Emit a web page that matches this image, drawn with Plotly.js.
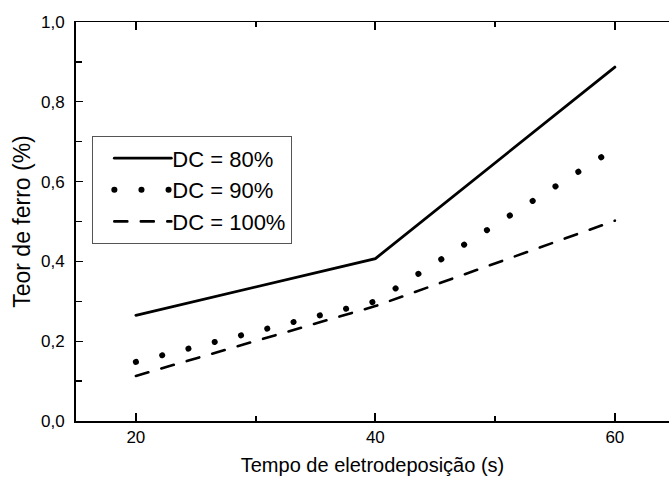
<!DOCTYPE html>
<html>
<head>
<meta charset="utf-8">
<script src="https://cdn.plot.ly/plotly-3.0.1.min.js"></script>
<style>
html,body{margin:0;padding:0;background:#fff;}
#chart{width:669px;height:479px;}
.scatterlayer path.js-line, .legend path.js-line { stroke-linecap: round; }
</style>
</head>
<body>
<div id="chart"></div>
<script>
const tempo = [20, 40, 60];
const dc80 = [0.265, 0.407, 0.887];
const dc90 = [0.148, 0.300, 0.683];
const dc100 = [0.113, 0.288, 0.502];
const seriesNames = ['DC = 80%', 'DC = 90%', 'DC = 100%'];
const xTicks = [20, 40, 60];
const yTicks = [0, 0.2, 0.4, 0.6, 0.8, 1.0];

const font = '"Liberation Sans", Arial, sans-serif';

const traces = [
  {x: tempo, y: dc80, name: seriesNames[0], mode: 'lines', legendgroup: 'a',
   line: {color: '#000', width: 2.8}},
  {x: tempo, y: dc90, name: seriesNames[1], mode: 'lines', legendgroup: 'b',
   line: {color: '#000', width: 6, dash: '0.1px,27px'}},
  {x: tempo, y: dc100, name: seriesNames[2], mode: 'lines', legendgroup: 'c',
   line: {color: '#000', width: 2.6, dash: '13px,13.5px'}}
];

const layout = {
  width: 669, height: 479,
  margin: {l: 76, r: 0, t: 22, b: 58},
  paper_bgcolor: '#fff', plot_bgcolor: '#fff',
  separators: ',.',
  font: {family: font, color: '#000', size: 17},
  showlegend: true,
  legend: {
    x: 0.027, y: 0.714, xanchor: 'left', yanchor: 'top',
    bgcolor: '#fff', bordercolor: '#555', borderwidth: 1.3,
    font: {family: font, size: 22, color: '#000'},
    traceorder: 'grouped', tracegroupgap: 0, itemwidth: 69
  },
  xaxis: {
    range: [15, 64.52],
    tickvals: xTicks, ticktext: xTicks.map(String),
    ticks: 'inside', ticklen: 8, tickwidth: 1.8, tickcolor: '#000',
    minor: {dtick: 10, ticks: 'inside', ticklen: 5, tickwidth: 1.8, tickcolor: '#000', tick0: 0},
    showline: true, linecolor: '#000', linewidth: 1.5, mirror: 'ticks',
    showgrid: false, zeroline: false,
    tickfont: {family: font, size: 17, color: '#000'},
    title: {text: 'Tempo de eletrodeposição (s)', font: {family: font, size: 20, color: '#000'}, standoff: 12}
  },
  yaxis: {
    range: [0, 1.0],
    tickvals: yTicks, tickformat: '.1f',
    ticks: 'inside', ticklen: 7, tickwidth: 1.3, tickcolor: '#000',
    minor: {dtick: 0.1, ticks: 'inside', ticklen: 6, tickwidth: 1.3, tickcolor: '#000'},
    showline: true, linecolor: '#000', linewidth: 1.9, mirror: false,
    showgrid: false, zeroline: false,
    ticklabelstandoff: 6,
    tickfont: {family: font, size: 17, color: '#000'},
    title: {text: 'Teor de ferro (%)', font: {family: font, size: 23, color: '#000'}, standoff: 4}
  }
};

Plotly.newPlot('chart', traces, layout, {displayModeBar: false, staticPlot: true}).then(function (gd) {
  // lengthen legend line samples to match reference legend glyphs
  gd.querySelectorAll('.legend .legendlines path').forEach(function (p) {
    p.setAttribute('d', 'M21,0h57');
  });
});
</script>
</body>
</html>
